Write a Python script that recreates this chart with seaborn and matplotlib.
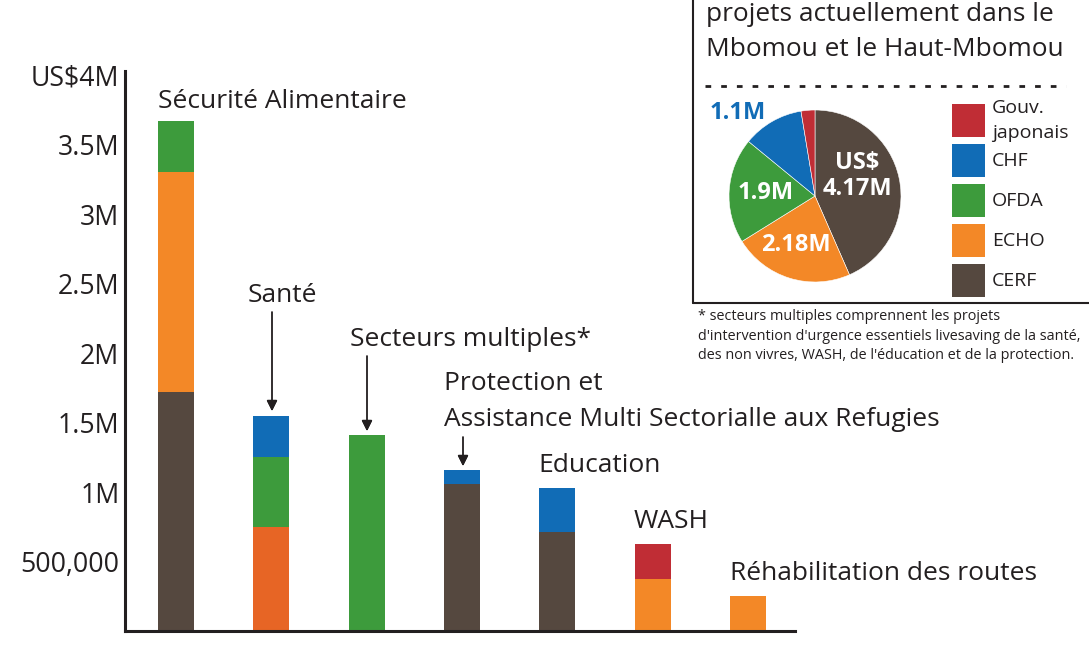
import numpy as np
import pandas as pd
import matplotlib
matplotlib.use("Agg")
import matplotlib.pyplot as plt
from matplotlib.patches import Rectangle
from matplotlib.lines import Line2D
import seaborn as sns

W, H = 1089, 647

# bar chart data (US$)
secteurs = ["Sécurité Alimentaire", "Santé", "Secteurs multiples*",
            "Protection et\nAssistance Multi Sectorialle aux Refugies",
            "Education", "WASH", "Réhabilitation des routes"]
sources = ["CERF", "ECHO", "OFDA", "CHF", "Gouv. japonais"]
cerf = [1.723e6, 0, 0, 1.058e6, 0.712e6, 0, 0]
echo = [1.577e6, 0.75e6, 0, 0, 0, 0.374e6, 0.25e6]
ofda = [0.367e6, 0.504e6, 1.414e6, 0, 0, 0, 0]
chf = [0, 0.296e6, 0, 0.10e6, 0.317e6, 0, 0]
japon = [0, 0, 0, 0, 0, 0.252e6, 0]

y_ticks = [500000, 1e6, 1.5e6, 2e6, 2.5e6, 3e6, 3.5e6, 4e6]
y_labels = ["500,000", "1M", "1.5M", "2M", "2.5M", "3M", "3.5M", "US$4M"]

# pie data (US$ M)
pie_values = [4.17, 2.18, 1.9, 1.1, 0.25]
pie_labels = ["US$\n4.17M", "2.18M", "1.9M", "1.1M", ""]
titre_pie = ["projets actuellement dans le", "Mbomou et le Haut-Mbomou"]
note = ["* secteurs multiples comprennent les projets",
        "d'intervention d'urgence essentiels livesaving de la santé,",
        "des non vivres, WASH, de l'éducation et de la protection."]

colors = {"CERF": "#55483f", "ECHO": "#f38827", "OFDA": "#3d9b3c",
          "CHF": "#116cb6", "Gouv. japonais": "#c02d35"}
sante_echo = "#e76525"
ink = "#231f20"

sns.set_style("white")
plt.rcParams["font.family"] = ["Open Sans", "DejaVu Sans"]


def fx(x):
    return x / W


def fy(y):
    return 1 - y / H


fig = plt.figure(figsize=(W / 100, H / 100), dpi=100)
ax = fig.add_axes([fx(125), fy(631), (795 - 125) / W, (631 - 71) / H])

series = {"CERF": cerf, "ECHO": echo, "OFDA": ofda, "CHF": chf, "Gouv. japonais": japon}
df = pd.DataFrame({"secteur": secteurs, **series})
bottom = np.zeros(len(secteurs))
for src in sources:
    sns.barplot(data=df, x="secteur", y=src, order=secteurs, bottom=bottom,
                color=colors[src], saturation=1, width=0.378, errorbar=None,
                linewidth=0, ax=ax)
    bottom = bottom + np.array(series[src])

# Santé ECHO segment is a darker orange
for p in ax.patches:
    if abs(p.get_x() + p.get_width() / 2 - 1) < 0.01 and p.get_y() == 0 and p.get_height() > 0:
        p.set_facecolor(sante_echo)

ax.set_xlim(-0.535, 6.495)
ax.set_ylim(0, 4.03e6)
ax.set_yticks(y_ticks)
ax.set_yticklabels(y_labels)
ax.set_xticks([])
ax.set_xlabel("")
ax.set_ylabel("")
ax.tick_params(axis="y", length=0, pad=4, labelsize=19.2, labelcolor=ink)
for s in ["top", "right"]:
    ax.spines[s].set_visible(False)
for s in ["left", "bottom"]:
    ax.spines[s].set_linewidth(2.2)
    ax.spines[s].set_color(ink)

# category labels
label_pos = [(158, 102), (248, 295), (350, 340), (444, 384), (538, 465), (634, 521), (730, 573)]
for name, (x, y) in zip(secteurs, label_pos):
    for k, line in enumerate(name.split("\n")):
        fig.text(fx(x), fy(y + 36 * k), line, fontsize=19, color=ink, va="center", ha="left")

# arrows
arrows = [(272, 312, 411), (367, 356, 431), (463, 437, 466)]
for x, y0, y1 in arrows:
    fig.add_artist(plt.annotate("", xy=(fx(x), fy(y1)), xytext=(fx(x), fy(y0)),
                                xycoords="figure fraction", textcoords="figure fraction",
                                arrowprops=dict(arrowstyle="-|>", color=ink, lw=1.0,
                                                mutation_scale=16, shrinkA=0, shrinkB=0)))

# inset box
fig.add_artist(Line2D([fx(693), fx(693)], [fy(-5), fy(303)], color=ink, lw=1.5))
fig.add_artist(Line2D([fx(693), fx(1095)], [fy(303), fy(303)], color=ink, lw=1.5))
fig.add_artist(Line2D([fx(705), fx(1066)], [fy(86), fy(86)], color=ink, lw=2.0,
                      ls=(0, (4.1 / 2.0, 7.2 / 2.0))))
fig.text(fx(706), fy(21), titre_pie[0], fontsize=18.9, color=ink, va="baseline")
fig.text(fx(706), fy(56), titre_pie[1], fontsize=18.9, color=ink, va="baseline")

# pie
r = 86
pax = fig.add_axes([fx(815 - r), fy(196 + r), 2 * r / W, 2 * r / H])
pax.pie(pie_values, colors=[colors[s] for s in sources], startangle=90, counterclock=False,
        wedgeprops=dict(linewidth=0.4, edgecolor="white"), radius=1)
pax.set_xlim(-1, 1)
pax.set_ylim(-1, 1)
pax.set_aspect("auto")

pie_text_pos = [(857, 176), (796, 245), (766, 193), (738, 113)]
for lab, (x, y), src in zip(pie_labels, pie_text_pos, sources):
    col = colors["CHF"] if src == "CHF" else "white"
    fig.text(fx(x), fy(y), lab, fontsize=17, fontweight="bold", color=col,
             ha="center", va="center", linespacing=1.15)

# legend
leg_tops = {"Gouv. japonais": 104, "CHF": 144, "OFDA": 184, "ECHO": 224, "CERF": 264}
for src in sources:
    top = leg_tops[src]
    fig.add_artist(Rectangle((fx(952), fy(top + 33)), 33 / W, 33 / H,
                             transform=fig.transFigure, color=colors[src], lw=0))
    if src == "Gouv. japonais":
        fig.text(fx(992), fy(108), "Gouv.", fontsize=14, color=ink, va="center")
        fig.text(fx(992), fy(133), "japonais", fontsize=14, color=ink, va="center")
    else:
        fig.text(fx(992), fy(top + 17), src, fontsize=14, color=ink, va="center")

for k, line in enumerate(note):
    fig.text(fx(698), fy(320 + 19.5 * k), line, fontsize=10.4, color=ink, va="baseline")

fig.savefig("out.png", dpi=100)
